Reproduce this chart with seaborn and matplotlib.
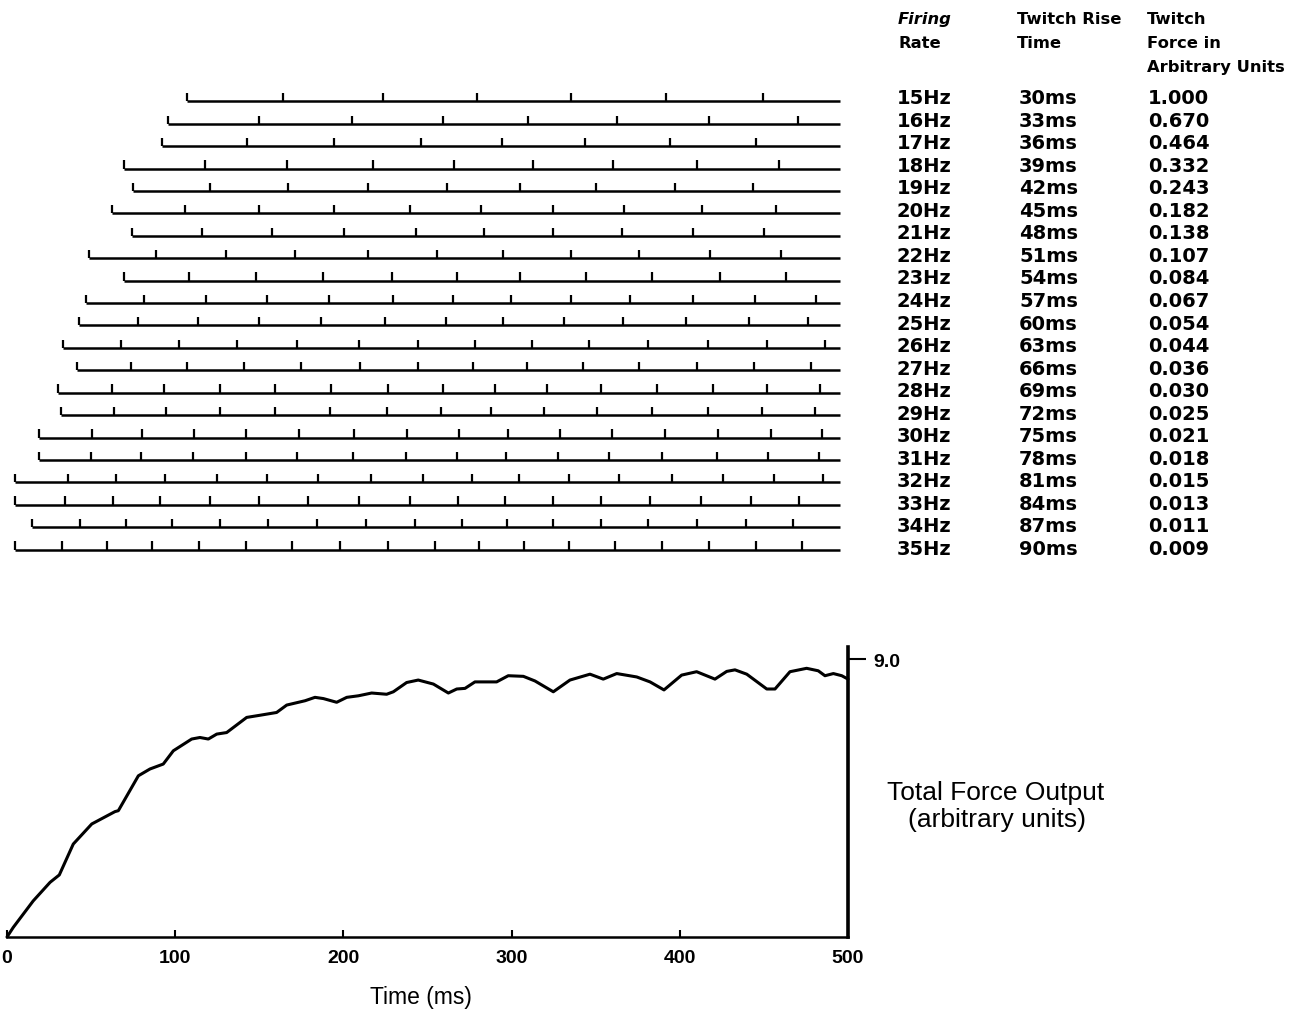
import matplotlib
matplotlib.use("Agg")
import matplotlib.pyplot as plt
import pandas as pd
import seaborn as sns

# ---- motor unit table -------------------------------------------------------
firing_rates = ["15Hz", "16Hz", "17Hz", "18Hz", "19Hz", "20Hz", "21Hz", "22Hz",
                "23Hz", "24Hz", "25Hz", "26Hz", "27Hz", "28Hz", "29Hz", "30Hz",
                "31Hz", "32Hz", "33Hz", "34Hz", "35Hz"]
rise_times = ["30ms", "33ms", "36ms", "39ms", "42ms", "45ms", "48ms", "51ms",
              "54ms", "57ms", "60ms", "63ms", "66ms", "69ms", "72ms", "75ms",
              "78ms", "81ms", "84ms", "87ms", "90ms"]
twitch_forces = ["1.000", "0.670", "0.464", "0.332", "0.243", "0.182", "0.138",
                 "0.107", "0.084", "0.067", "0.054", "0.044", "0.036", "0.030",
                 "0.025", "0.021", "0.018", "0.015", "0.013", "0.011", "0.009"]

# ---- discharge times of each unit (ms); the first entry is recruitment ------
spikes_15 = [107, 164, 223.5, 279.5, 335.5, 392, 449.5]
spikes_16 = [95.5, 150, 205, 259, 309.5, 362.5, 417.5, 470]
spikes_17 = [92, 142.5, 194.5, 246, 294.5, 343.5, 394, 445.5]
spikes_18 = [69.5, 117.5, 166.5, 217.5, 265.5, 312.5, 360.5, 410, 459]
spikes_19 = [75, 120.5, 167, 214.5, 261.5, 305, 350, 397, 443.5]
spikes_20 = [62.5, 106, 150, 194.5, 239.5, 282, 324.5, 367, 413, 457]
spikes_21 = [74.5, 116, 157.5, 200.5, 243, 283.5, 324.5, 365.5, 408, 450]
spikes_22 = [48.5, 88.5, 130, 171, 214.5, 255.5, 295, 335.5, 375.5, 418, 460]
spikes_23 = [69.5, 108, 148, 188, 229, 267.5, 305, 344, 383.5, 424, 463]
spikes_24 = [47, 81.5, 118.5, 154.5, 191.5, 229.5, 265, 299.5, 335.5, 370.5,
             408, 444.5, 481]
spikes_25 = [43, 78, 113.5, 150, 186.5, 224.5, 261, 295, 331, 366, 403.5, 441, 476]
spikes_26 = [33.5, 68, 102.5, 136.5, 172.5, 209.5, 244.5, 278, 312, 346, 381,
             416.5, 452, 486.5]
spikes_27 = [41.5, 73.5, 107, 141, 175, 210, 244.5, 277, 309, 342.5, 375.5,
             410, 444, 478]
spikes_28 = [30.5, 62.5, 93.5, 126.5, 159.5, 192.5, 226.5, 259, 290, 321, 353,
             386.5, 419.5, 452, 483.5]
spikes_29 = [32, 63.5, 94.5, 126.5, 159.5, 192, 226, 258, 287.5, 319, 351,
             383.5, 416.5, 449, 480.5]
spikes_30 = [19, 50.5, 80.5, 111, 142, 173.5, 206.5, 238, 268.5, 298, 329,
             359.5, 391, 422.5, 454, 484.5]
spikes_31 = [19, 50, 79.5, 110.5, 142, 172.5, 205.5, 237, 267.5, 296.5, 327.5,
             358, 389.5, 422, 452.5, 482.5]
spikes_32 = [5, 36.5, 65, 94, 125, 154.5, 185, 216.5, 247.5, 276.5, 304.5,
             334, 364, 395.5, 425.5, 456, 485]
spikes_33 = [5, 34.5, 63, 91, 120.5, 150, 179, 209.5, 239.5, 268, 296, 324.5,
             353, 382.5, 412.5, 442.5, 471]
spikes_34 = [15, 43.5, 70.5, 98, 126.5, 155, 184.5, 213.5, 242.5, 270.5, 297.5,
             324.5, 353, 381, 410, 439.5, 467.5]
spikes_35 = [5, 32.5, 59.5, 86, 114, 142, 169.5, 198, 226.5, 254.5, 280.5,
             307.5, 334, 361.5, 389.5, 417.5, 445.5, 472.5]
unit_spikes = [spikes_15, spikes_16, spikes_17, spikes_18, spikes_19, spikes_20,
               spikes_21, spikes_22, spikes_23, spikes_24, spikes_25, spikes_26,
               spikes_27, spikes_28, spikes_29, spikes_30, spikes_31, spikes_32,
               spikes_33, spikes_34, spikes_35]
train_end = 495

# ---- summed force output ----------------------------------------------------
force_time = [0, 3.7, 15.6, 25.6, 31.1, 39.4, 50.4, 64.2, 66.2, 78.1, 85.0,
              92.9, 98.9, 109.8, 114.7, 119.7, 124.7, 130.6, 142.5, 150.4,
              160.3, 166.3, 177.2, 183.1, 188.1, 196.0, 202.0, 208.9, 216.8,
              225.7, 229.7, 237.6, 244.5, 253.5, 262.4, 267.4, 272.3, 278.2,
              291.1, 298.0, 307.0, 313.9, 324.8, 334.7, 346.6, 354.5, 362.5,
              374.4, 382.3, 390.6, 401.1, 410.0, 420.9, 427.9, 432.8, 439.8,
              451.7, 456.6, 465.5, 475.4, 482.3, 486.3, 491.3, 496.3, 500.0]
force_total = [0, 0.31, 1.17, 1.77, 2.01, 3.01, 3.66, 4.06, 4.09, 5.22, 5.44,
               5.60, 6.03, 6.41, 6.46, 6.41, 6.57, 6.62, 7.11, 7.18, 7.27,
               7.51, 7.65, 7.76, 7.72, 7.60, 7.76, 7.81, 7.90, 7.86, 7.94,
               8.24, 8.32, 8.19, 7.90, 8.03, 8.05, 8.26, 8.26, 8.46, 8.44,
               8.29, 7.94, 8.32, 8.51, 8.35, 8.53, 8.42, 8.26, 8.00, 8.48,
               8.59, 8.35, 8.60, 8.65, 8.51, 8.03, 8.03, 8.59, 8.70, 8.62,
               8.46, 8.53, 8.46, 8.35]

sns.set_theme(style="ticks")
plt.rcParams["font.family"] = ["Liberation Sans", "DejaVu Sans"]
plt.rcParams["text.color"] = "black"
plt.rcParams["axes.edgecolor"] = "black"
plt.rcParams["xtick.color"] = "black"
plt.rcParams["ytick.color"] = "black"
plt.rcParams["xtick.labelcolor"] = "black"
plt.rcParams["ytick.labelcolor"] = "black"
plt.rcParams["lines.solid_joinstyle"] = "round"

W, H = 1296, 1012
fig = plt.figure(figsize=(W / 100, H / 100), dpi=100)
fig.patch.set_facecolor("white")


def axes_px(x0, y0, x1, y1):
    return fig.add_axes([x0 / W, 1 - y1 / H, (x1 - x0) / W, (y1 - y0) / H])


def text_px(x, y, s, **kw):
    fig.text(x / W, 1 - y / H, s, color="black", **kw)


# ---- spike trains -----------------------------------------------------------
ax_top = axes_px(7, 80, 848, 560)
ax_top.set_xlim(0, 500)
ax_top.set_ylim(20.42, -1.0)
ax_top.axis("off")
tick_h = 0.37
for row, spikes in enumerate(unit_spikes):
    ax_top.hlines(row, spikes[0], train_end, color="black", lw=1.8)
    ax_top.vlines(spikes, row - tick_h, row, color="black", lw=1.6)

# ---- table to the right of the trains ---------------------------------------
table_font = ["DejaVu Sans"]
head_kw = dict(fontsize=11.8, fontweight="bold", va="baseline", ha="left",
               family=table_font)
text_px(898, 24, "Firing", style="italic", **head_kw)
text_px(898, 48, "Rate", **head_kw)
text_px(1017, 24, "Twitch Rise", **head_kw)
text_px(1017, 48, "Time", **head_kw)
text_px(1147, 24, "Twitch", **head_kw)
text_px(1147, 48, "Force in", **head_kw)
text_px(1147, 72, "Arbitrary Units", **head_kw)

row_kw = dict(fontsize=14, fontweight="bold", va="baseline", ha="left",
              family=table_font)
for i in range(len(firing_rates)):
    yb = 104 + 22.55 * i
    text_px(897, yb, firing_rates[i], **row_kw)
    text_px(1019, yb, rise_times[i], **row_kw)
    text_px(1148, yb, twitch_forces[i], **row_kw)

# ---- total force ------------------------------------------------------------
ax_bot = axes_px(7, 648, 848, 938)
force_df = pd.DataFrame({"time": force_time, "force": force_total})
sns.lineplot(data=force_df, x="time", y="force", ax=ax_bot, color="black",
             lw=2.2, estimator=None, sort=False, clip_on=False)
ax_bot.set_xlim(0, 500)
ax_bot.set_ylim(0, 9.39)
ax_bot.set_xlabel("")
ax_bot.set_ylabel("")
ax_bot.set_facecolor("white")
for side in ("left", "top"):
    ax_bot.spines[side].set_visible(False)
ax_bot.spines["right"].set_linewidth(2.6)
ax_bot.spines["bottom"].set_linewidth(1.8)
ax_bot.set_xticks([0, 100, 200, 300, 400, 500])
ax_bot.set_xticklabels(["0", "100", "200", "300", "400", "500"],
                       fontsize=14, fontweight="bold")
ax_bot.tick_params(axis="x", direction="in", length=5, width=1.5, pad=9,
                   bottom=True)
ax_bot.yaxis.tick_right()
ax_bot.set_yticks([9.0])
ax_bot.set_yticklabels(["9.0"], fontsize=14, fontweight="bold")
ax_bot.tick_params(axis="y", direction="out", length=13, width=1.5, pad=5,
                   right=True, left=False)

text_px(421, 998, "Time (ms)", fontsize=16.5, ha="center", va="center")
text_px(996, 793, "Total Force Output", fontsize=19, ha="center", va="center")
text_px(997, 820, "(arbitrary units)", fontsize=19, ha="center", va="center")

fig.savefig("out.png", dpi=100, facecolor="white")
